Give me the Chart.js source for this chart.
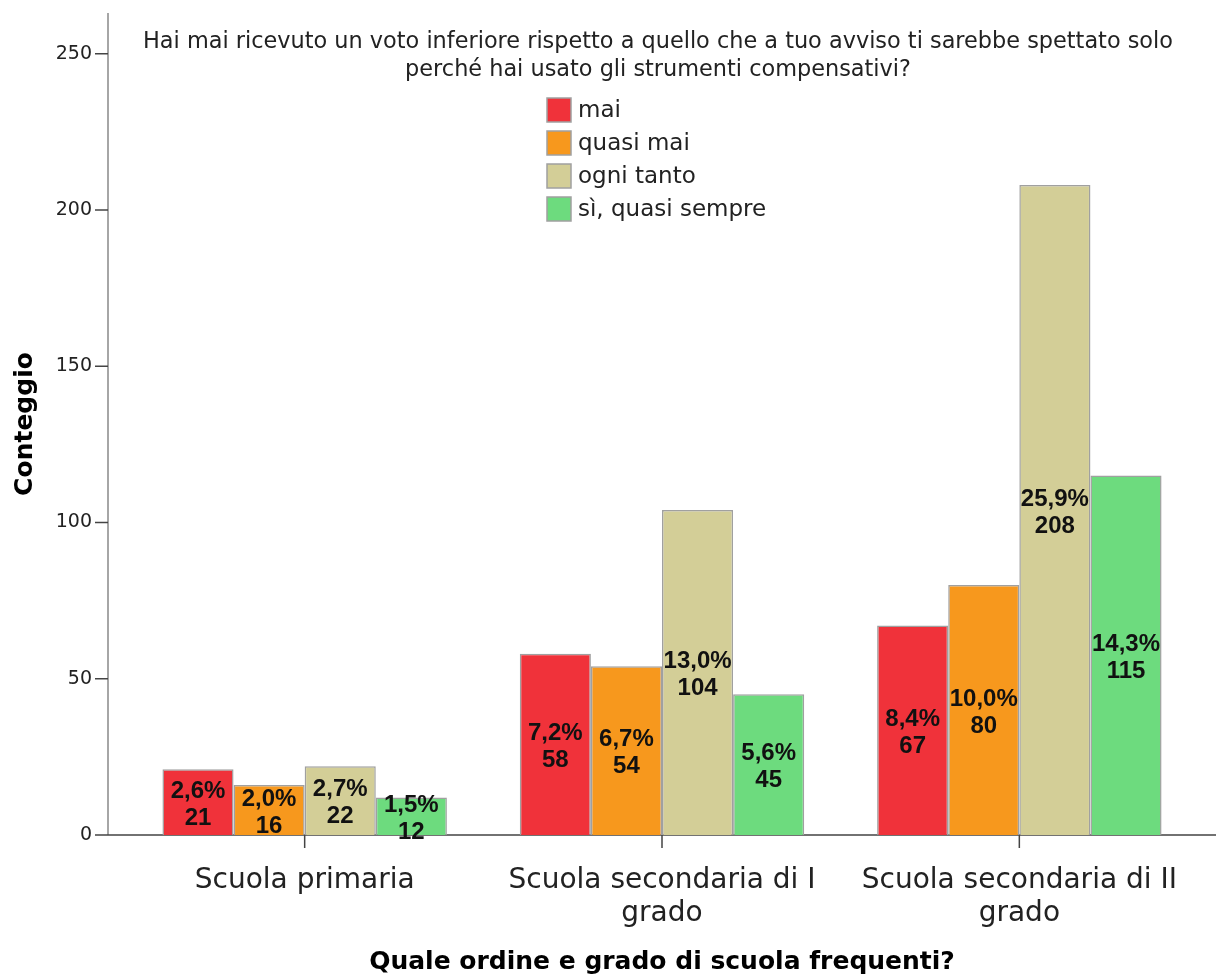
<!DOCTYPE html>
<html>
<head>
<meta charset="utf-8">
<script src="https://cdn.jsdelivr.net/npm/chart.js@4"></script>
<style>
  body { margin: 0; background: #fff; }
</style>
</head>
<body>
<canvas id="myChart" width="1217" height="977"></canvas>
<script>
// Data
const categories = [['Scuola primaria'], ['Scuola secondaria di I', 'grado'], ['Scuola secondaria di II', 'grado']];
const seriesLabels = ['mai', 'quasi mai', 'ogni tanto', 'sì, quasi sempre'];
const mai = [21, 58, 67];
const quasiMai = [16, 54, 80];
const ogniTanto = [22, 104, 208];
const quasiSempre = [12, 45, 115];
const yTicks = [0, 50, 100, 150, 200, 250];
const titleLines = [
  'Hai mai ricevuto un voto inferiore rispetto a quello che a tuo avviso ti sarebbe spettato solo',
  'perché hai usato gli strumenti compensativi?'
];
const colors = ['#f0323a', '#f7981d', '#d3ce97', '#6ddb7e'];

const series = [mai, quasiMai, ogniTanto, quasiSempre];
const total = series.flat().reduce((a, b) => a + b, 0);
const pct = v => (v / total * 100).toFixed(1).replace('.', ',') + '%';

// axis lines and tick marks
const axisLines = {
  id: 'axisLines',
  beforeDatasetsDraw(chart) {
    const { ctx, chartArea, scales: { x, y } } = chart;
    ctx.save();
    ctx.strokeStyle = '#a6a6a6';
    ctx.lineWidth = 2;
    ctx.beginPath();
    ctx.moveTo(108, chartArea.top);
    ctx.lineTo(108, chartArea.bottom);
    ctx.stroke();
    ctx.strokeStyle = '#444';
    ctx.lineWidth = 1.5;
    ctx.beginPath();
    ctx.moveTo(108, chartArea.bottom);
    ctx.lineTo(1216, chartArea.bottom);
    y.ticks.forEach(t => {
      const py = y.getPixelForValue(t.value);
      ctx.moveTo(95, py);
      ctx.lineTo(108, py);
    });
    x.ticks.forEach((t, i) => {
      const px = x.getPixelForTick(i);
      ctx.moveTo(px, chartArea.bottom);
      ctx.lineTo(px, chartArea.bottom + 13);
    });
    ctx.stroke();
    ctx.restore();
  }
};

// title, legend and bar labels
const extras = {
  id: 'extras',
  afterDatasetsDraw(chart) {
    const ctx = chart.ctx;
    ctx.save();
    ctx.fillStyle = '#111';
    ctx.textAlign = 'center';
    ctx.textBaseline = 'middle';
    ctx.font = 'bold 24px "Liberation Sans"';
    chart.data.datasets.forEach((ds, i) => {
      chart.getDatasetMeta(i).data.forEach((bar, j) => {
        const v = ds.data[j];
        const cy = (bar.y + bar.base) / 2 + 2;
        ctx.fillText(pct(v), bar.x, cy - 13);
        ctx.fillText(String(v), bar.x, cy + 14);
      });
    });

    ctx.fillStyle = '#222';
    ctx.font = '22.4px "DejaVu Sans"';
    ctx.fillText(titleLines[0], 658, 42);
    ctx.fillText(titleLines[1], 658, 70);

    ctx.textAlign = 'left';
    ctx.font = '23px "DejaVu Sans"';
    chart.data.datasets.forEach((ds, i) => {
      const top = 98 + i * 33;
      ctx.fillStyle = ds.backgroundColor;
      ctx.fillRect(547, top, 24, 24);
      ctx.strokeStyle = '#a0a0a0';
      ctx.lineWidth = 1.5;
      ctx.strokeRect(547, top, 24, 24);
      ctx.fillStyle = '#222';
      ctx.fillText(ds.label, 578, top + 13);
    });
    ctx.restore();
  }
};

const ctx = document.getElementById('myChart').getContext('2d');
const myChart = new Chart(ctx, {
  type: 'bar',
  data: {
    labels: categories,
    datasets: series.map((d, i) => ({
      label: seriesLabels[i],
      data: d,
      backgroundColor: colors[i],
      borderColor: '#a0a0a0',
      borderWidth: 1.5,
      barPercentage: 1,
      categoryPercentage: 0.796
    }))
  },
  options: {
    responsive: false,
    animation: false,
    layout: { padding: { top: 13, right: 19, left: 0, bottom: 0 } },
    plugins: {
      legend: { display: false },
      tooltip: { enabled: false }
    },
    scales: {
      x: {
        grid: { display: false },
        border: { display: false },
        ticks: {
          color: '#222',
          font: { family: 'DejaVu Sans', size: 28, lineHeight: 1.15 },
          padding: 22,
          maxRotation: 0,
          autoSkip: false
        },
        title: {
          display: true,
          text: 'Quale ordine e grado di scuola frequenti?',
          color: '#000',
          font: { family: 'DejaVu Sans', size: 25, weight: 'bold' },
          padding: 0
        },
        afterFit(scale) { scale.height = 142; }
      },
      y: {
        min: 0,
        max: 263,
        grid: { display: false },
        border: { display: false },
        ticks: {
          color: '#222',
          font: { family: 'DejaVu Sans', size: 19 },
          padding: 26
        },
        afterBuildTicks(scale) { scale.ticks = yTicks.map(v => ({ value: v })); },
        title: {
          display: true,
          text: 'Conteggio',
          color: '#000',
          font: { family: 'DejaVu Sans', size: 25, weight: 'bold' },
          padding: { top: 10, bottom: 0 }
        },
        afterFit(scale) {
          scale.width = 126;
          scale.paddingTop = 0;
          scale.paddingBottom = 0;
        }
      }
    }
  },
  plugins: [axisLines, extras]
});
</script>
</body>
</html>
